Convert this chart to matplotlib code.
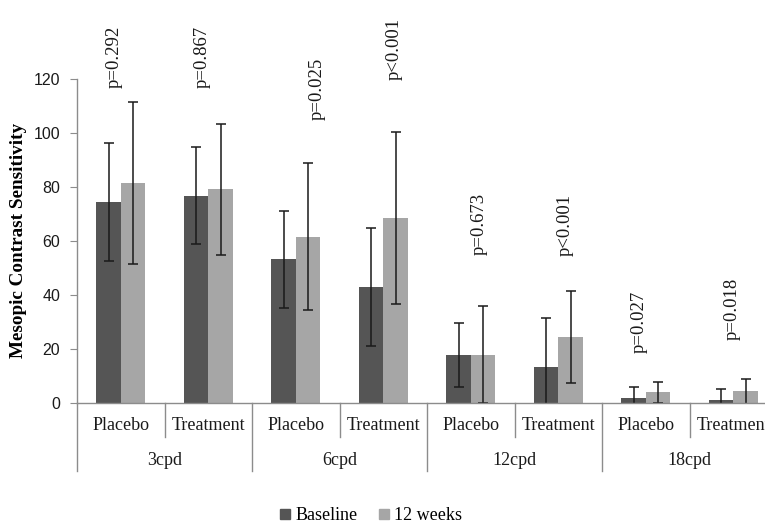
import numpy as np
import matplotlib
matplotlib.use("Agg")
import matplotlib.pyplot as plt
from matplotlib.patches import Patch

# Values
frequencies = ["3cpd", "6cpd", "12cpd", "18cpd"]
arms = ["Placebo", "Treatment"]
baseline_mean = [74.3, 76.7, 53.1, 42.8, 17.7, 13.3, 1.9, 1.1]
baseline_sd = [22.0, 18.0, 18.0, 21.8, 11.7, 18.0, 4.0, 4.1]
week12_mean = [81.2, 79.1, 61.5, 68.3, 17.8, 24.3, 3.8, 4.2]
week12_sd = [30.0, 24.3, 27.3, 31.8, 18.0, 17.0, 4.0, 4.7]
p_values = ["p=0.292", "p=0.867", "p=0.025", "p<0.001",
            "p=0.673", "p<0.001", "p=0.027", "p=0.018"]
p_label_y = [116.6, 116.6, 104.7, 119.5, 54.7, 54.3, 18.3, 23.2]
p_label_dx = [-0.07, -0.07, 0.25, 0.12, 0.10, 0.08, -0.07, -0.01]

dark = "#555555"
light = "#a6a6a6"
axis_grey = "#8c8c8c"
serif = ["Liberation Serif", "DejaVu Serif"]
sans = ["Liberation Sans", "DejaVu Sans"]

fig = plt.figure(figsize=(7.65, 5.29), dpi=100)
ax = fig.add_axes([77 / 765, 126.3 / 529, 700 / 765, 324 / 529])

n = len(baseline_mean)
x = np.arange(n) + 0.5
w = 0.28
err_kw = dict(ecolor="#1a1a1a", elinewidth=1.1, capsize=3.3, capthick=1.1)
ax.bar(x - w / 2, baseline_mean, w, yerr=baseline_sd, color=dark,
       error_kw=err_kw, label="Baseline")
ax.bar(x + w / 2, week12_mean, w, yerr=week12_sd, color=light,
       error_kw=err_kw, label="12 weeks")

for xi, lab, yy, dx in zip(x, p_values, p_label_y, p_label_dx):
    ax.text(xi + dx, yy, lab, rotation=90, ha="center", va="bottom",
            fontsize=13.5, family=serif, color="#1a1a1a", clip_on=False)

ax.set_xlim(0, n)
ax.set_ylim(0, 120)
ax.set_yticks(range(0, 121, 20))
ax.set_xticks([])
for lbl in ax.get_yticklabels():
    lbl.set_family(sans)
ax.tick_params(axis="y", labelsize=11.5, length=5, color=axis_grey,
               labelcolor="#1a1a1a", pad=7)
for s in ["top", "right"]:
    ax.spines[s].set_visible(False)
for s in ["left", "bottom"]:
    ax.spines[s].set_color(axis_grey)
    ax.spines[s].set_linewidth(1.0)

# hierarchical category axis
tr = ax.get_xaxis_transform()
line_kw = dict(color=axis_grey, lw=1.0, transform=tr, clip_on=False)
ax.plot([0, 0], [0, -0.21], **line_kw)
for i in range(1, n):
    bottom = -0.21 if i % len(arms) == 0 else -0.105
    ax.plot([i, i], [0, bottom], **line_kw)
for i, xi in enumerate(x):
    ax.text(xi, -0.071, arms[i % len(arms)], transform=tr, ha="center",
            va="center", fontsize=13, family=serif, color="#1a1a1a")
for j, f in enumerate(frequencies):
    ax.text(j * len(arms) + len(arms) / 2, -0.177, f, transform=tr,
            ha="center", va="center", fontsize=13, family=serif,
            color="#1a1a1a")

ax.set_ylabel("Mesopic Contrast Sensitivity", family=serif, fontsize=13.8,
              fontweight="bold")
ax.yaxis.set_label_coords(-0.071, 0.5)

handles = [Patch(color=dark), Patch(color=light)]
fig.legend(handles, ["Baseline", "12 weeks"], loc="lower center",
           bbox_to_anchor=(0.485, -0.022), ncol=2, frameon=False,
           prop={"family": serif, "size": 13}, handlelength=0.55,
           handleheight=0.55, handletextpad=0.3, columnspacing=1.2)

fig.savefig("out.png", dpi=100)
